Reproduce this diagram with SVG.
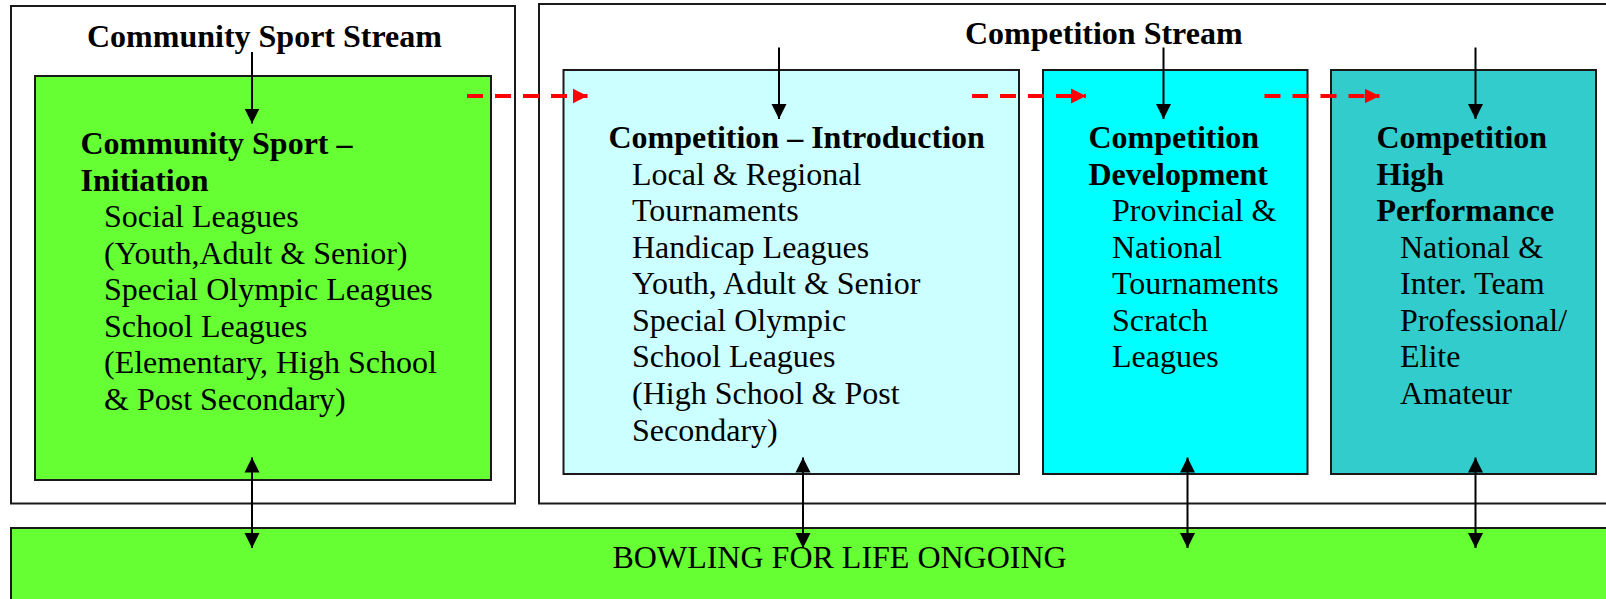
<svg xmlns="http://www.w3.org/2000/svg" width="1606" height="599" viewBox="0 0 1606 599">
<style>
.frame{fill:#ffffff;stroke:#1a1a1a;stroke-width:2}
.box{stroke:#1a1a1a;stroke-width:2}
.t{font-family:"Liberation Serif","Times New Roman",serif;font-size:32px;fill:#000}
.b{font-weight:bold}
.conn{stroke:#000;stroke-width:2;fill:none}
.red{stroke:#ff0000;stroke-width:4;fill:none;stroke-dasharray:16 12}
</style>
<defs>
<marker id="ah" markerUnits="userSpaceOnUse" markerWidth="16" markerHeight="16" viewBox="0 0 16 16" refX="15" refY="8" orient="auto-start-reverse">
<path d="M0,0.5 L15,8 L0,15.5 Z" fill="#000"/>
</marker>
<marker id="rh" markerUnits="userSpaceOnUse" markerWidth="16" markerHeight="16" viewBox="0 0 16 16" refX="15" refY="8" orient="auto">
<path d="M0,0.5 L15,8 L0,15.5 Z" fill="#ff0000"/>
</marker>
</defs>
<rect width="1606" height="599" fill="#ffffff"/>
<g id="community-stream">
<rect class="frame" x="11" y="6" width="504" height="497.5"/>
<text class="t b" x="87" y="47">Community Sport Stream</text>
</g>
<g id="competition-stream">
<rect class="frame" x="539" y="4" width="1080" height="499.5"/>
<text class="t b" x="965" y="44">Competition Stream</text>
</g>
<g id="community-initiation">
<rect class="box" x="35" y="76" width="456" height="404" fill="#66ff33"/>
<text class="t b" x="80.5" y="154">Community Sport –</text>
<text class="t b" x="80.5" y="190.5">Initiation</text>
<text class="t" x="104" y="227">Social Leagues</text>
<text class="t" x="104" y="263.5">(Youth,Adult &amp; Senior)</text>
<text class="t" x="104" y="300">Special Olympic Leagues</text>
<text class="t" x="104" y="336.5">School Leagues</text>
<text class="t" x="104" y="373">(Elementary, High School</text>
<text class="t" x="104" y="410">&amp; Post Secondary)</text>
</g>
<g id="competition-introduction">
<rect class="box" x="563.5" y="70" width="455.5" height="404" fill="#ccffff"/>
<text class="t b" x="608.5" y="148">Competition – Introduction</text>
<text class="t" x="632" y="184.5">Local &amp; Regional</text>
<text class="t" x="632" y="221">Tournaments</text>
<text class="t" x="632" y="257.5">Handicap Leagues</text>
<text class="t" x="632" y="294">Youth, Adult &amp; Senior</text>
<text class="t" x="632" y="330.5">Special Olympic</text>
<text class="t" x="632" y="367">School Leagues</text>
<text class="t" x="632" y="404">(High School &amp; Post</text>
<text class="t" x="632" y="440.5">Secondary)</text>
</g>
<g id="competition-development">
<rect class="box" x="1043" y="70" width="264.5" height="404" fill="#00ffff"/>
<text class="t b" x="1088.5" y="148">Competition</text>
<text class="t b" x="1088.5" y="184.5">Development</text>
<text class="t" x="1112" y="221">Provincial &amp;</text>
<text class="t" x="1112" y="257.5">National</text>
<text class="t" x="1112" y="294">Tournaments</text>
<text class="t" x="1112" y="330.5">Scratch</text>
<text class="t" x="1112" y="367">Leagues</text>
</g>
<g id="competition-high-performance">
<rect class="box" x="1331" y="70" width="265" height="404" fill="#33cccc"/>
<text class="t b" x="1376.5" y="148">Competition</text>
<text class="t b" x="1376.5" y="184.5">High</text>
<text class="t b" x="1376.5" y="221">Performance</text>
<text class="t" x="1400" y="257.5">National &amp;</text>
<text class="t" x="1400" y="294">Inter. Team</text>
<text class="t" x="1400" y="330.5">Professional/</text>
<text class="t" x="1400" y="367">Elite</text>
<text class="t" x="1400" y="403.5">Amateur</text>
</g>
<g id="bowling-for-life">
<rect class="box" x="11" y="528" width="1600" height="80" fill="#66ff33"/>
<text class="t" x="612.5" y="568">BOWLING FOR LIFE ONGOING</text>
</g>
<g id="connectors">
<line class="conn" x1="252" y1="52" x2="252" y2="123.5" marker-end="url(#ah)"/>
<line class="conn" x1="779" y1="47.5" x2="779" y2="119" marker-end="url(#ah)"/>
<line class="conn" x1="1163.5" y1="47.5" x2="1163.5" y2="119" marker-end="url(#ah)"/>
<line class="conn" x1="1475.5" y1="47.5" x2="1475.5" y2="119" marker-end="url(#ah)"/>
<line class="conn" x1="252" y1="457.5" x2="252" y2="548" marker-start="url(#ah)" marker-end="url(#ah)"/>
<line class="conn" x1="803" y1="457.5" x2="803" y2="548" marker-start="url(#ah)" marker-end="url(#ah)"/>
<line class="conn" x1="1187.5" y1="457.5" x2="1187.5" y2="548" marker-start="url(#ah)" marker-end="url(#ah)"/>
<line class="conn" x1="1475.5" y1="457.5" x2="1475.5" y2="548" marker-start="url(#ah)" marker-end="url(#ah)"/>
<line class="red" x1="467" y1="96" x2="587.5" y2="96" marker-end="url(#rh)"/>
<line class="red" x1="972" y1="96" x2="1086" y2="96" marker-end="url(#rh)"/>
<line class="red" x1="1264.5" y1="96" x2="1379.5" y2="96" marker-end="url(#rh)"/>
</g>
</svg>
